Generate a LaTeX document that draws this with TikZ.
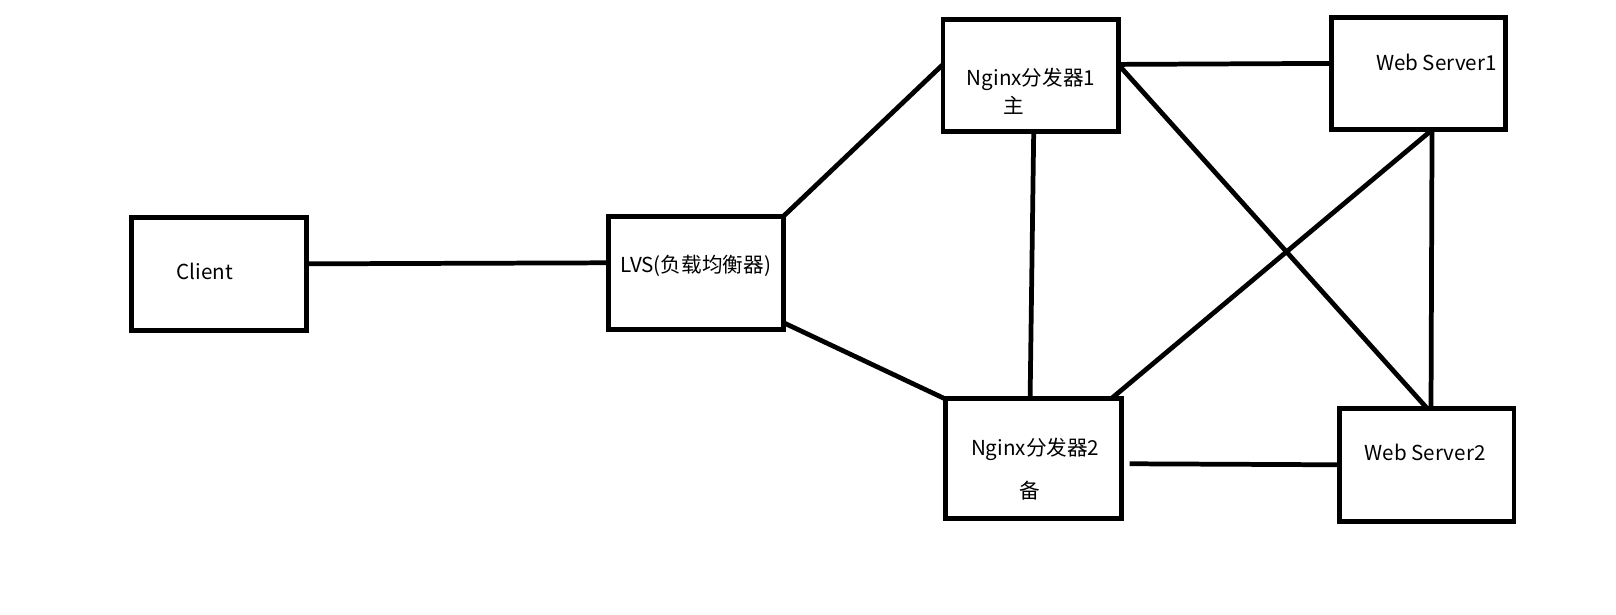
\documentclass[tikz,border=0pt]{standalone}
\usepackage{fontspec}
\setmainfont{Noto Sans CJK SC}
\usepackage{tikz}

\tikzset{
  box/.style={draw, line width=4.8pt, inner sep=0pt, outer sep=0pt},
  txt/.style={inner sep=0pt, font=\fontsize{20}{22}\selectfont},
  wire/.style={line width=4.6pt}
}

\begin{document}
\begin{tikzpicture}[x=1pt,y=-1pt]
\useasboundingbox (0,0) rectangle (1568,596.7);

% Boxes
\node[box, minimum width=169pt, minimum height=110pt] (client) at (212.5,266) {};
\node[box, minimum width=170pt, minimum height=110pt] (lvs) at (675,265) {};
\node[box, minimum width=170pt, minimum height=109pt] (ngx1) at (1000,73.5) {};
\node[box, minimum width=169pt, minimum height=109pt] (ws1) at (1376.5,71.5) {};
\node[box, minimum width=171pt, minimum height=116pt] (ngx2) at (1002.5,445) {};
\node[box, minimum width=169pt, minimum height=110pt] (ws2) at (1384.5,451) {};

% Labels
\node[txt, anchor=base west] (clienttxt) at (171,271) {Client};
\node[txt, anchor=base west] (lvstxt) at (602,264) {LVS(负载均衡器)};
\node[txt, anchor=base west] (ngx1txt) at (938,83) {Nginx分发器1};
\node[txt, anchor=base] (ngx1role) at (984,110) {主};
\node[txt, anchor=base west] (ws1txt) at (1335,68.5) {Web Server1};
\node[txt, anchor=base west] (ngx2txt) at (942,442) {Nginx分发器2};
\node[txt, anchor=base] (ngx2role) at (999,484) {备};
\node[txt, anchor=base west] (ws2txt) at (1324,446.5) {Web Server2};

% Links
\draw[wire] ([yshift=10pt]client.east) -- ([yshift=10pt]lvs.west);
\draw[wire] (lvs.north east) -- ([yshift=11pt]ngx1.west);
\draw[wire] ([yshift=7pt]lvs.south east) -- (ngx2.north west);
\draw[wire] ([xshift=3pt]ngx1.south) -- ([xshift=-3pt]ngx2.north);
\draw[wire] ([yshift=11pt]ngx1.east) -- ([yshift=10pt]ws1.west);
\draw[wire] ([yshift=11pt]ngx1.east) -- (ws2.north);
\draw[wire] ([xshift=13pt]ws1.south) -- ([xshift=-10pt]ngx2.north east);
\draw[wire] ([xshift=13pt]ws1.south) -- ([xshift=4pt]ws2.north);
\draw[wire] ([xshift=8pt,yshift=-5pt]ngx2.east) -- (ws2.west);

\end{tikzpicture}
\end{document}
